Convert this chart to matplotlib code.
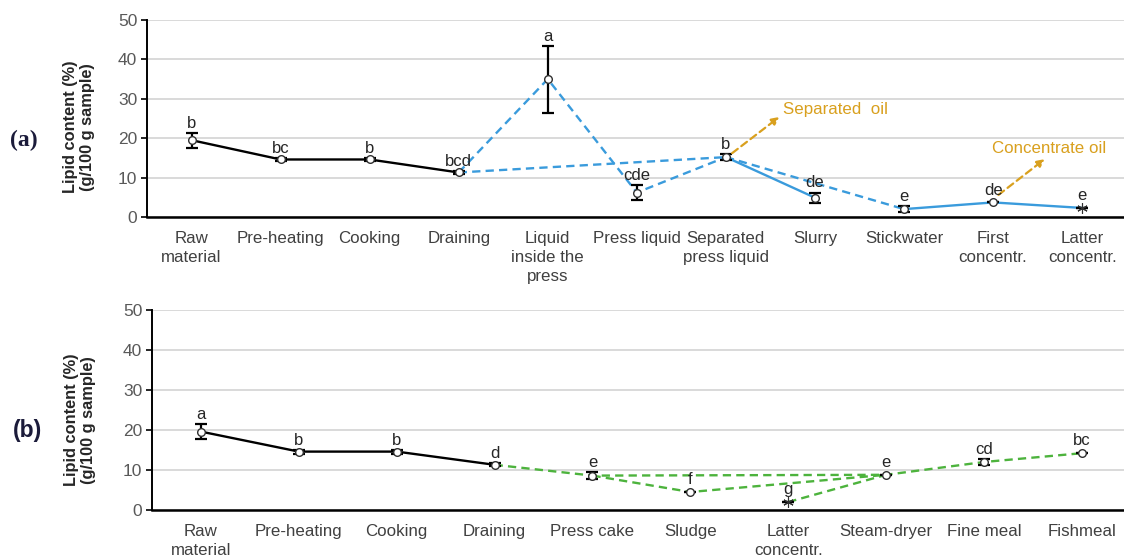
import numpy as np
import matplotlib
matplotlib.use("Agg")
import matplotlib.pyplot as plt

plt.rcParams['font.family'] = ['Liberation Sans', 'DejaVu Sans']

# (a) etapas até o concentrado
etapas_a = ["Raw\nmaterial", "Pre-heating", "Cooking", "Draining", "Liquid\ninside the\npress",
            "Press liquid", "Separated\npress liquid", "Slurry", "Stickwater",
            "First\nconcentr.", "Latter\nconcentr."]
lipid_a = [19.5, 14.6, 14.6, 11.3, 35.0, 6.2, 15.2, 4.9, 2.0, 3.7, 2.3]
err_a = [1.9, 0.4, 0.4, 0.4, 8.5, 1.9, 0.7, 1.3, 0.8, 0.0, 0.0]
letras_a = ["b", "bc", "b", "bcd", "a", "cde", "b", "de", "e", "de", "e"]

# (b) etapas até a farinha
etapas_b = ["Raw\nmaterial", "Pre-heating", "Cooking", "Draining", "Press cake", "Sludge",
            "Latter\nconcentr.", "Steam-dryer", "Fine meal", "Fishmeal"]
lipid_b = [19.6, 14.6, 14.6, 11.3, 8.6, 4.5, 2.0, 8.8, 12.0, 14.2]
err_b = [1.9, 0.5, 0.5, 0.4, 0.8, 0.0, 0.0, 0.0, 0.75, 0.0]
letras_b = ["a", "b", "b", "d", "e", "f", "g", "e", "cd", "bc"]

# ligações entre etapas (índices)
preto_a = [0, 1, 2, 3]
azul_tracejado = [[3, 4, 5, 6], [3, 6], [6, 8]]
azul_solido = [[6, 7], [8, 9, 10]]
preto_b = [0, 1, 2, 3]
verde_tracejado = [[3, 4, 7, 8, 9], [4, 5, 7], [6, 7]]

# pontos com marcador asterisco
asterisco_a = [10]
asterisco_b = [6]

AZUL = '#3A9BDC'
VERDE = '#4DB33D'
LARANJA = '#D9A01E'
TXT = '#404040'

fig = plt.figure(figsize=(11.24, 5.58), dpi=100)
ax1 = fig.add_axes([147 / 1124, 1 - 217 / 558, 1 - 147 / 1124, 197 / 558])
ax2 = fig.add_axes([152 / 1124, 1 - 510 / 558, 1 - 152 / 1124, 200 / 558])


def caminho(ax, y, idx, cor, tracejado):
    xs = np.array(idx)
    ys = np.array([y[i] for i in idx])
    if tracejado:
        ax.plot(xs, ys, color=cor, lw=1.7, dashes=(3.5, 2.2), zorder=2)
    else:
        ax.plot(xs, ys, color=cor, lw=1.7, zorder=2)


def pontos(ax, y, e, letras, ast):
    x = np.arange(len(y))
    ax.errorbar(x, y, yerr=e, fmt='none', ecolor='black', elinewidth=1.6,
                capsize=4, capthick=1.6, zorder=3)
    for i in range(len(y)):
        if i in ast:
            ax.plot(i, y[i], marker=(6, 2, 0), ms=7.5, mec='#303030', mew=0.8,
                    ls='none', zorder=4)
        else:
            ax.plot(i, y[i], marker='o', ms=5.5, mfc='white', mec='#303030', mew=1.0,
                    ls='none', zorder=4)
        extra = 1.5 if e[i] > 0 else 3.5
        ax.annotate(letras[i], (i, y[i] + e[i]), xytext=(0, extra), textcoords='offset points',
                    ha='center', va='bottom', fontsize=12, color='#262626', zorder=5)


def estilo(ax, etapas, xmax):
    ax.set_xlim(-0.5, xmax)
    ax.set_ylim(0, 50)
    ax.set_yticks(np.arange(0, 51, 10))
    ax.set_xticks(np.arange(len(etapas)))
    ax.set_xticklabels(etapas, fontsize=12.2, color=TXT, linespacing=1.32)
    ax.tick_params(axis='x', length=0, pad=10)
    ax.tick_params(axis='y', length=4, width=1.2, direction='out', labelsize=12.5,
                   labelcolor='#595959', pad=3)
    ax.grid(axis='y', color='#D9D9D9', lw=1.4)
    ax.set_axisbelow(True)
    for s in ['top', 'right']:
        ax.spines[s].set_visible(False)
    ax.spines['left'].set_linewidth(1.4)
    ax.spines['bottom'].set_linewidth(1.8)


# painel (a)
caminho(ax1, lipid_a, preto_a, 'black', False)
for c in azul_tracejado:
    caminho(ax1, lipid_a, c, AZUL, True)
for c in azul_solido:
    caminho(ax1, lipid_a, c, AZUL, False)
pontos(ax1, lipid_a, err_a, letras_a, asterisco_a)
estilo(ax1, etapas_a, 10.47)

setas = dict(arrowstyle='-|>', color=LARANJA, lw=1.6, linestyle=(0, (3.2, 2)),
             mutation_scale=11, shrinkA=0, shrinkB=0)
ax1.annotate('', xy=(6.6, 25.4), xytext=(6.07, 16.2), arrowprops=setas)
ax1.text(6.64, 27.2, 'Separated  oil', color=LARANJA, fontsize=12.2, ha='left', va='center')
ax1.annotate('', xy=(9.58, 14.7), xytext=(9.06, 5.6), arrowprops=setas)
ax1.text(8.99, 17.3, 'Concentrate oil', color=LARANJA, fontsize=12.2, ha='left', va='center')

# painel (b)
caminho(ax2, lipid_b, preto_b, 'black', False)
for c in verde_tracejado:
    caminho(ax2, lipid_b, c, VERDE, True)
pontos(ax2, lipid_b, err_b, letras_b, asterisco_b)
estilo(ax2, etapas_b, 9.43)

# rótulos dos eixos e dos painéis
fig.text(79 / 1124, 1 - 127 / 558, 'Lipid content (%)\n(g/100 g sample)', rotation=90,
         ha='center', va='center', fontsize=11.8, fontweight='bold', color='#262626',
         linespacing=1.2)
fig.text(80 / 1124, 1 - 420 / 558, 'Lipid content (%)\n(g/100 g sample)', rotation=90,
         ha='center', va='center', fontsize=11.8, fontweight='bold', color='#262626',
         linespacing=1.2)
fig.text(24 / 1124, 1 - 140 / 558, '(a)', family='Liberation Serif', fontweight='bold',
         fontsize=17, color='#1B1B3A', ha='center', va='center')
fig.text(27 / 1124, 1 - 430 / 558, '(b)', fontweight='bold', fontsize=16.5,
         color='#1B1B3A', ha='center', va='center')

fig.savefig('out.png', dpi=100)
